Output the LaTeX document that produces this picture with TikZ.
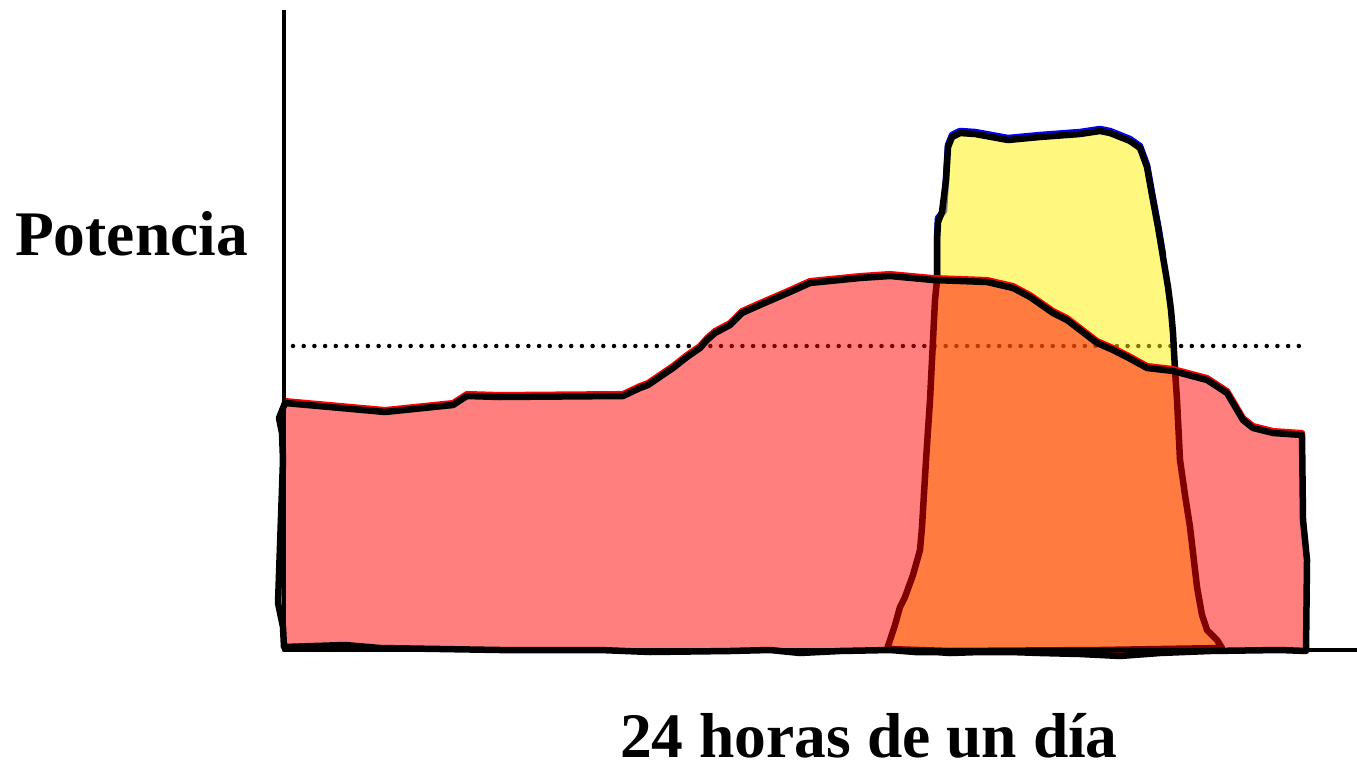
\documentclass[tikz,border=0pt]{standalone}
\usepackage{fontspec}
\setmainfont{Liberation Serif}
\usepackage{tikz}
\usetikzlibrary{positioning}

\begin{document}
\begin{tikzpicture}[x=1pt, y=-1pt, line join=round, line cap=round]
					%%%	Margini
					\useasboundingbox (0,0) rectangle (1357,765);
					
					%%% Testi
					\node [anchor=base west, inner sep=0pt] (potencia) at (15,255) {\fontsize{63.5}{70}\selectfont\bfseries Potencia};
					\node [anchor=base west, inner sep=0pt] (horas) at (620,757) {\fontsize{63.5}{70}\selectfont\bfseries 24 horas de un día};
					
					%%% Linea media
					\draw [line width=4.5pt, dash pattern=on 0pt off 10.7pt] (293,346) -- (1300,346);
					
					%%%	Picco (giallo)
					\draw [blue, line width=6.5pt, shift={(0,-2)}] (937,280) -- (937,240) -- (938,220) -- (944,213) -- (946,180) -- (948,147) -- (952,137) -- (960,133) -- (975,134) -- (1008,140) -- (1040,137) -- (1080,134) -- (1100,131) -- (1110,133) -- (1130,141) -- (1140,148) -- (1147,167) -- (1152,195) -- (1158,227) -- (1163,257);
					\draw [line width=6.5pt, fill=yellow, fill opacity=0.5, draw opacity=1] (887,649) -- (895,625) -- (900,607) -- (905,597) -- (913,575) -- (920,550) -- (922,527) -- (926,460) -- (930,400) -- (933,340) -- (935,300) -- (937,280) -- (937,240) -- (938,222) -- (942,212) -- (946,180) -- (948,147) -- (952,137) -- (960,133) -- (975,134) -- (1008,140) -- (1040,137) -- (1080,134) -- (1100,131) -- (1110,133) -- (1130,141) -- (1140,148) -- (1147,167) -- (1152,195) -- (1158,227) -- (1163,257) -- (1168,287) -- (1171,310) -- (1173,333) -- (1175,370) -- (1177,400) -- (1180,460) -- (1185,495) -- (1190,527) -- (1197,587) -- (1202,615) -- (1207,630) -- (1217,640) -- (1222,648) -- (1100,650) -- (950,651) -- cycle;
					
					%%%	Carico (rosso)
					\draw [red, line width=6.5pt, shift={(0,-1.8)}] (285,403) -- (385,412) -- (453,405) -- (467,396) -- (500,397) -- (623,396) -- (640,388) -- (648,385) -- (673,368) -- (687,357) -- (700,348) -- (707,340) -- (715,333) -- (730,325) -- (742,313) -- (760,305) -- (790,292) -- (810,283) -- (860,278) -- (890,276) -- (933,280) -- (987,282) -- (1013,288) -- (1030,297) -- (1053,313) -- (1067,320) -- (1097,343) -- (1113,350) -- (1127,357) -- (1147,368) -- (1173,371) -- (1207,380) -- (1227,393) -- (1243,420) -- (1253,428) -- (1273,433) -- (1302,435);
					\draw [line width=6.5pt, fill=red, fill opacity=0.5, draw opacity=1] (285,403) -- (385,412) -- (453,405) -- (467,396) -- (500,397) -- (623,396) -- (640,388) -- (648,385) -- (673,368) -- (687,357) -- (700,348) -- (707,340) -- (715,333) -- (730,325) -- (742,313) -- (760,305) -- (790,292) -- (810,283) -- (860,278) -- (890,276) -- (933,280) -- (987,282) -- (1013,288) -- (1030,297) -- (1053,313) -- (1067,320) -- (1097,343) -- (1113,350) -- (1127,357) -- (1147,368) -- (1173,371) -- (1207,380) -- (1227,393) -- (1243,420) -- (1253,428) -- (1273,433) -- (1302,435) -- (1303,520) -- (1307,560) -- (1306,651) -- (1280,650) -- (1210,651) -- (1160,653) -- (1120,656) -- (1080,654) -- (1040,653) -- (1010,652) -- (980,652) -- (950,653) -- (935,652) -- (915,652) -- (890,650) -- (840,651) -- (800,653) -- (770,650) -- (730,651) -- (650,652) -- (600,650) -- (500,650) -- (380,648) -- (345,645) -- (284,647) -- (283,627) -- (278,603) -- (283,460) -- (282,433) -- (279,418) -- cycle;
					
					%%%	Assi
					\draw [line width=4.5pt, line cap=butt] (284,10) -- (284,650) -- (1357,650);
\end{tikzpicture}
\end{document}
